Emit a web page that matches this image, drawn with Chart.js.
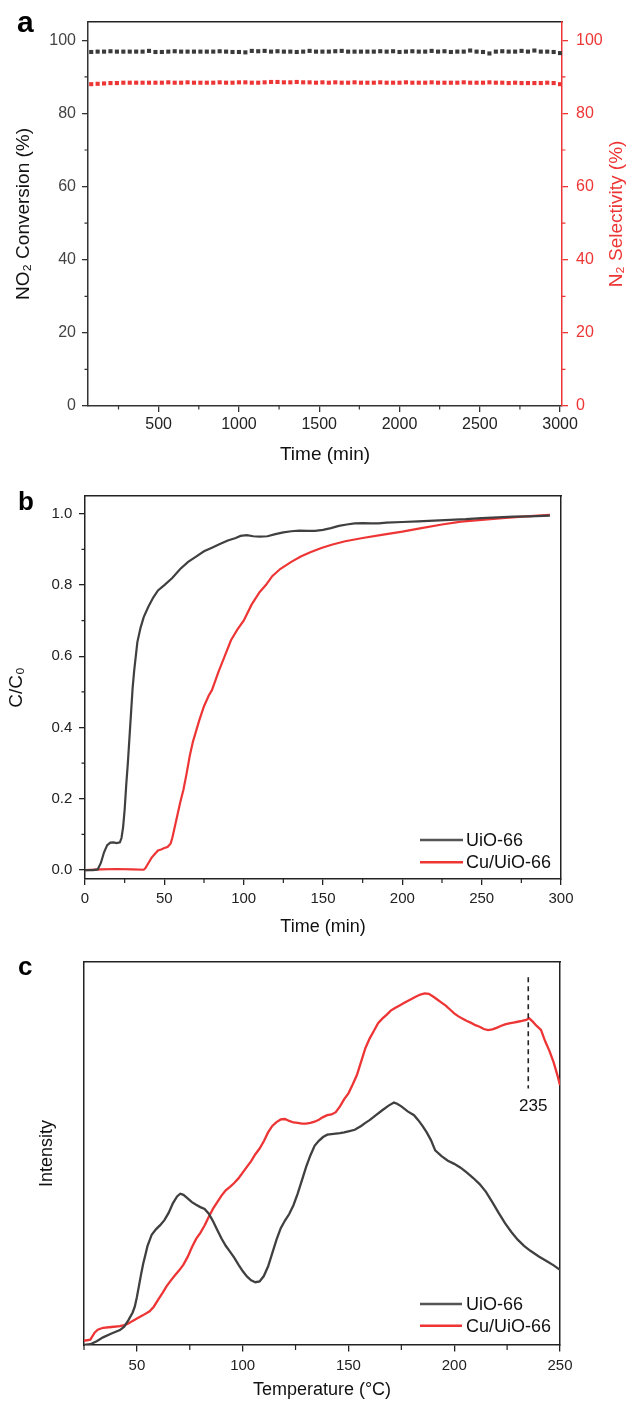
<!DOCTYPE html>
<html>
<head>
<meta charset="utf-8">
<script src="https://cdn.jsdelivr.net/npm/chart.js@4.4.1/dist/chart.umd.min.js"></script>
<style>
  html, body { margin: 0; padding: 0; background: #fff; }
  #page { position: relative; width: 630px; height: 1401px; overflow: hidden;
          font-family: 'Liberation Sans', Arial, Helvetica, sans-serif; }
  canvas { position: absolute; left: 0; }
  .tag { position: absolute; font-weight: bold; color: #000; line-height: 1; }
</style>
</head>
<body>
<div id="page">
  <canvas id="chartA" width="630" height="470" style="top:0"></canvas>
  <canvas id="chartB" width="630" height="460" style="top:480px"></canvas>
  <canvas id="chartC" width="630" height="461" style="top:940px"></canvas>
  <div class="tag" style="left:17px;top:7px;font-size:30px">a</div>
  <div class="tag" style="left:18px;top:488px;font-size:26px">b</div>
  <div class="tag" style="left:18px;top:953px;font-size:26px">c</div>
</div>
<script>
// --- data panel a: stabilitas konversi NO2 / selektivitas N2 ---
const timeA = [80,120,160,200,240,280,320,360,400,440,
  480,520,560,600,640,680,720,760,800,840,
  880,920,960,1000,1040,1080,1120,1160,1200,1240,
  1280,1320,1360,1400,1440,1480,1520,1560,1600,1640,
  1680,1720,1760,1800,1840,1880,1920,1960,2000,2040,
  2080,2120,2160,2200,2240,2280,2320,2360,2400,2440,
  2480,2520,2560,2600,2640,2680,2720,2760,2800,2840,
  2880,2920,2960,3000];
const convA = [96.8,96.9,96.9,97.0,96.9,96.9,96.9,96.9,96.9,97.1,
  96.8,96.8,96.9,97.0,96.9,96.9,96.9,96.9,96.9,96.9,
  97.0,96.9,96.8,96.8,96.7,97.1,97.0,97.1,96.9,97.0,
  96.9,96.9,96.8,96.9,97.1,96.9,96.9,96.9,97.0,97.1,
  96.9,96.9,96.9,96.9,96.9,97.0,96.9,97.0,96.8,96.9,
  97.0,96.9,96.9,97.1,96.9,97.0,96.8,96.9,96.9,97.2,
  96.9,96.8,96.4,96.9,97.0,96.9,96.9,97.1,96.9,97.2,
  96.9,96.9,96.8,96.5];
const selA = [88.0,88.1,88.2,88.3,88.3,88.4,88.4,88.4,88.4,88.4,
  88.4,88.4,88.5,88.4,88.4,88.5,88.4,88.4,88.4,88.4,
  88.5,88.4,88.4,88.5,88.5,88.4,88.4,88.5,88.6,88.6,
  88.5,88.5,88.6,88.5,88.5,88.4,88.5,88.4,88.5,88.4,
  88.4,88.5,88.4,88.4,88.4,88.5,88.4,88.4,88.4,88.5,
  88.4,88.4,88.4,88.5,88.4,88.4,88.4,88.4,88.5,88.4,
  88.4,88.4,88.5,88.4,88.4,88.3,88.4,88.3,88.3,88.3,
  88.3,88.4,88.3,88.0];
const ticksAX = [500, 1000, 1500, 2000, 2500, 3000];
const minorAX = [250, 750, 1250, 1750, 2250, 2750];
const ticksAY = [0, 20, 40, 60, 80, 100];
const minorAY = [10, 30, 50, 70, 90];

// --- data panel b: kurva breakthrough ---
const timeB_UiO = [0,5,8,10,12,14,16,18,20,22,23,24,25,26,27,28,29,30,31,32,
  33,35,37,40,43,46,50,55,60,65,70,75,80,85,90,95,98,102,106,110,
  115,120,125,130,135,140,145,150,155,160,165,170,175,180,185,190,200,210,220,230,
  240,250,260,270,280,293];
const valB_UiO = [0,0,0.002,0.02,0.05,0.07,0.077,0.078,0.076,0.078,0.09,0.12,0.17,0.24,0.30,0.37,0.44,0.51,0.56,0.60,
  0.64,0.68,0.71,0.74,0.765,0.785,0.80,0.82,0.845,0.865,0.88,0.895,0.905,0.915,0.925,0.932,0.938,0.94,0.937,0.936,
  0.937,0.943,0.948,0.951,0.953,0.952,0.952,0.955,0.96,0.966,0.97,0.973,0.974,0.973,0.973,0.975,0.977,0.979,0.981,0.983,
  0.985,0.988,0.99,0.992,0.993,0.995];
const timeB_Cu = [0,10,20,30,37,38,40,42,44,46,48,50,52,54,55,56,58,60,62,64,
  66,68,70,72,75,78,80,84,88,92,96,100,105,110,114,118,123,130,136,142,
  149,156,164,175,187,200,212,225,237,250,263,278,293];
const valB_Cu = [0,0.002,0.003,0.002,0.001,0.005,0.02,0.035,0.045,0.055,0.058,0.062,0.065,0.075,0.09,0.11,0.15,0.19,0.225,0.27,
  0.32,0.36,0.39,0.42,0.46,0.49,0.505,0.555,0.60,0.645,0.675,0.70,0.745,0.78,0.80,0.825,0.845,0.865,0.88,0.892,
  0.904,0.914,0.923,0.932,0.941,0.95,0.96,0.97,0.978,0.983,0.988,0.993,0.997];
const ticksBX = [0, 50, 100, 150, 200, 250, 300];
const minorBX = [25, 75, 125, 175, 225, 275];
const ticksBY = [0, 0.2, 0.4, 0.6, 0.8, 1.0];
const minorBY = [0.1, 0.3, 0.5, 0.7, 0.9];

// --- data panel c: TPD ---
const tempC_UiO = [25,28,31,34,38,42,44,46,48,49,50,51,52,53,54,55,57,59,61,63,
  65,67,69,70.5,72,74,76,78,80,82,84,86,88,90,92,94,96,98,100,102,
  104,106,108,110,112,114,116,118,120,122,124,126,128,130,132,134,136,138,140,143,
  146,148,150,153,156,158,160,163,166,169,171.5,173,175,178,181,183,185,187,189,191,
  194,197,200,203,206,209,212,215,218,221,224,227,230,233,236,240,244,247,250];
const valC_UiO = [0,0.2,1.0,2.0,3.0,3.9,4.8,6.5,8.5,10,12.5,15.5,18.5,21.3,23.5,25.8,28.8,30.2,31.3,32.6,
  34.5,37,38.8,39.5,39.2,38.3,37.3,36.6,36.0,35.5,34.3,32.3,30,27.8,25.9,24.4,22.8,21,19.3,17.9,
  16.9,16.4,16.6,18.0,20.5,24,27.5,30.5,32.5,34.2,36.5,39.5,43,46.5,49.5,52,53.3,54.3,54.9,55.1,
  55.3,55.5,55.8,56.2,57.2,58.0,58.7,60.0,61.3,62.5,63.3,63.0,62.3,61.0,60.0,58.7,57.2,55.5,53.5,50.8,
  49.3,48.1,47.3,46.3,45.0,43.6,42.0,40.0,37.3,34.5,31.8,29.5,27.5,25.9,24.6,23.1,21.8,20.8,19.6];
const tempC_Cu = [25,28,30,31.5,34,38,42,44,46,48,50,53,56,58,60,62,64,66,68,70,
  72,74,76,78,80,82,84,86,88,90,92,94,96,98,100,102,104,106,108,110,
  112,114,116,118,120,122,124,126,128,130,132,134,136,138,140,142,144,146,148,150,
  152,154,156,158,160,162,164,166,168,170,172,174,176,178,180,182,184,186,188,190,
  192,194,196,198,200,202,204,206,208,210,212,214,216,218,220,222,224,226,228,230,
  232,234,235.5,237,239,241,243,245,247,249,250];
const valC_Cu = [1.1,1.4,3.2,4.0,4.5,4.7,4.9,5.2,5.6,6.3,6.9,7.8,8.8,10,11.8,13.5,15.3,16.8,18.2,19.5,
  21,23,25.5,27.7,29.3,31.2,33.5,35.6,37.3,39,40.4,41.3,42.3,43.5,45,46.5,48,49.8,51.3,53.2,
  55.5,57.2,58.2,58.9,59,58.5,58.1,58,57.8,57.8,58,58.3,58.8,59.5,60,60.2,60.8,62.3,64.2,65.7,
  68,70.5,74,77.5,80,82,84,85.2,86.2,87.3,88,88.6,89.2,89.8,90.4,91,91.5,91.8,91.7,91,
  90.2,89.4,88.6,87.6,86.6,85.8,85.2,84.6,84.1,83.5,83.1,82.5,82.2,82.4,82.8,83.3,83.7,84,84.2,84.4,
  84.6,84.9,85.3,84.5,83.3,82.3,79.3,76.8,73.8,70,67.8];
const ticksCX = [50, 100, 150, 200, 250];
const minorCX = [25, 75, 125, 175, 225];
const peakTemp = 235;

// --- gaya ---
const FONT = "'Liberation Sans', Arial, Helvetica, sans-serif";
const DARK = '#333333';
const RED = '#ee3535';
const GREY = '#404040';
Chart.defaults.font.family = FONT;
Chart.defaults.color = '#222';

const toPoints = (xs, ys) => xs.map((x, i) => ({ x, y: ys[i] }));
const fixTicks = values => scale => { scale.ticks = values.map(v => ({ value: v })); };
const fixWidth = w => s => { s.width = w; };
const fixHeight = h => s => { s.height = h; };

// sumbu kosong, hanya untuk garis bingkai
function frameAxis(position, size) {
  const horiz = position === 'top' || position === 'bottom';
  return {
    position, min: 0, max: 1,
    ticks: { display: false },
    grid: { display: false, drawTicks: false },
    border: { color: '#222', width: 1.5 },
    afterFit: horiz ? fixHeight(size) : fixWidth(size)
  };
}

// --- plugin: tick minor yang lebih pendek ---
function minorTicks(axes) {
  return {
    id: 'minorTicks',
    afterDraw(chart) {
      const ctx = chart.ctx;
      Object.keys(axes).forEach(id => {
        const sc = chart.scales[id];
        const cfg = axes[id];
        ctx.save();
        ctx.strokeStyle = sc.options.border.color;
        ctx.lineWidth = 1.2;
        ctx.beginPath();
        cfg.values.forEach(v => {
          const p = sc.getPixelForValue(v);
          if (sc.isHorizontal()) { ctx.moveTo(p, sc.top); ctx.lineTo(p, sc.top + cfg.len); }
          else if (sc.position === 'left') { ctx.moveTo(sc.right, p); ctx.lineTo(sc.right - cfg.len, p); }
          else { ctx.moveTo(sc.left, p); ctx.lineTo(sc.left + cfg.len, p); }
        });
        ctx.stroke();
        ctx.restore();
      });
    }
  };
}

// --- plugin: judul sumbu kanan dibaca dari bawah ke atas ---
function sideTitle(text, x, color, size) {
  return {
    id: 'sideTitle',
    afterDraw(chart) {
      const ctx = chart.ctx, a = chart.chartArea;
      ctx.save();
      ctx.translate(x, (a.top + a.bottom) / 2);
      ctx.rotate(-Math.PI / 2);
      ctx.font = `${size}px ${FONT}`;
      ctx.fillStyle = color;
      ctx.textAlign = 'center';
      ctx.textBaseline = 'middle';
      ctx.fillText(text, 0, 0);
      ctx.restore();
    }
  };
}

// --- plugin: legenda di pojok kanan bawah ---
function cornerLegend(pos) {
  return {
    id: 'cornerLegend',
    afterDraw(chart) {
      const ctx = chart.ctx, a = chart.chartArea;
      chart.data.datasets.forEach((ds, i) => {
        const y = a.bottom - pos.rows[i];
        ctx.save();
        ctx.strokeStyle = ds.legendColor || ds.borderColor;
        ctx.lineWidth = 2.5;
        ctx.beginPath();
        ctx.moveTo(a.right - pos.lineFrom, y);
        ctx.lineTo(a.right - pos.lineTo, y);
        ctx.stroke();
        ctx.fillStyle = '#111';
        ctx.font = `${pos.size}px ${FONT}`;
        ctx.textBaseline = 'middle';
        ctx.fillText(ds.label, a.right - pos.textAt, y + 1);
        ctx.restore();
      });
    }
  };
}

// --- plugin: garis putus-putus puncak ---
function peakMark(temp, yTop, yBottom, yText) {
  return {
    id: 'peakMark',
    afterDatasetsDraw(chart) {
      const ctx = chart.ctx, sx = chart.scales.x, sy = chart.scales.y;
      const px = sx.getPixelForValue(temp);
      ctx.save();
      ctx.strokeStyle = '#222';
      ctx.lineWidth = 1.6;
      ctx.setLineDash([5, 4]);
      ctx.beginPath();
      ctx.moveTo(px, sy.getPixelForValue(yTop));
      ctx.lineTo(px, sy.getPixelForValue(yBottom));
      ctx.stroke();
      ctx.setLineDash([]);
      ctx.fillStyle = '#111';
      ctx.font = `17px ${FONT}`;
      ctx.textAlign = 'center';
      ctx.textBaseline = 'middle';
      ctx.fillText(String(temp), px + 5, sy.getPixelForValue(yText));
      ctx.restore();
    }
  };
}

const baseOpts = {
  responsive: false,
  animation: false,
  plugins: { legend: { display: false }, tooltip: { enabled: false } }
};

// ===== Panel a =====
new Chart(document.getElementById('chartA'), {
  type: 'scatter',
  data: {
    datasets: [
      { label: 'NO2 Conversion', data: toPoints(timeA, convA), yAxisID: 'y',
        pointStyle: 'rect', pointRadius: 2.9, pointBorderWidth: 0, pointBackgroundColor: '#3a3a3a' },
      { label: 'N2 Selectivity', data: toPoints(timeA, selA), yAxisID: 'y2',
        pointStyle: 'rect', pointRadius: 2.9, pointBorderWidth: 0, pointBackgroundColor: RED }
    ]
  },
  options: {
    ...baseOpts,
    layout: { padding: { top: 22, left: 0, right: 0, bottom: 0 } },
    scales: {
      x: {
        type: 'linear', position: 'bottom', min: 60, max: 3012,
        afterBuildTicks: fixTicks(ticksAX), afterFit: fixHeight(64),
        ticks: { font: { size: 16 }, color: '#222', padding: 3, autoSkip: false, maxRotation: 0, callback: v => String(v) },
        grid: { drawOnChartArea: false, tickLength: 6, color: DARK, lineWidth: 1.3 },
        border: { color: DARK, width: 1.5 },
        title: { display: true, text: 'Time (min)', font: { size: 19 }, color: '#111', padding: { top: 0, bottom: 3.6 } }
      },
      xt: frameAxis('top', 0),
      y: {
        position: 'left', min: 0, max: 105,
        afterBuildTicks: fixTicks(ticksAY), afterFit: fixWidth(88),
        ticks: { font: { size: 16 }, color: '#444', padding: 6, callback: v => String(v) },
        grid: { drawOnChartArea: false, tickLength: 6, color: DARK, lineWidth: 1.3 },
        border: { color: DARK, width: 1.5 },
        title: { display: true, text: 'NO₂ Conversion (%)', font: { size: 19 }, color: '#111', padding: { top: 12.6, bottom: 0 } }
      },
      y2: {
        position: 'right', min: 0, max: 105,
        afterBuildTicks: fixTicks(ticksAY), afterFit: fixWidth(68),
        ticks: { font: { size: 16 }, color: RED, padding: 8, callback: v => String(v) },
        grid: { drawOnChartArea: false, tickLength: 6, color: RED, lineWidth: 1.3 },
        border: { color: RED, width: 1.5 }
      }
    }
  },
  plugins: [
    minorTicks({ x: { values: minorAX, len: 3.5 }, y: { values: minorAY, len: 3.5 }, y2: { values: minorAY, len: 3.5 } }),
    sideTitle('N₂ Selectivity (%)', 617, RED, 19)
  ]
});

// ===== Panel b =====
new Chart(document.getElementById('chartB'), {
  type: 'scatter',
  data: {
    datasets: [
      { label: 'UiO-66', data: toPoints(timeB_UiO, valB_UiO), showLine: true, pointRadius: 0,
        borderColor: GREY, borderWidth: 2.2, legendColor: '#555' },
      { label: 'Cu/UiO-66', data: toPoints(timeB_Cu, valB_Cu), showLine: true, pointRadius: 0,
        borderColor: RED, borderWidth: 2.2 }
    ]
  },
  options: {
    ...baseOpts,
    layout: { padding: { top: 16, left: 0, right: 0, bottom: 0 } },
    scales: {
      x: {
        type: 'linear', position: 'bottom', min: 0, max: 300,
        afterBuildTicks: fixTicks(ticksBX), afterFit: fixHeight(61),
        ticks: { font: { size: 15 }, color: '#222', padding: 5, autoSkip: false, maxRotation: 0, callback: v => String(v) },
        grid: { drawOnChartArea: false, tickLength: 6, color: '#222', lineWidth: 1.3 },
        border: { color: '#222', width: 1.5 },
        title: { display: true, text: 'Time (min)', font: { size: 18 }, color: '#111', padding: { top: 0, bottom: 2.2 } }
      },
      xt: frameAxis('top', 0),
      y: {
        position: 'left', min: -0.025, max: 1.05,
        afterBuildTicks: fixTicks(ticksBY), afterFit: fixWidth(85),
        ticks: { font: { size: 15 }, color: '#222', padding: 6.7, callback: v => v.toFixed(1) },
        grid: { drawOnChartArea: false, tickLength: 6, color: '#222', lineWidth: 1.3 },
        border: { color: '#222', width: 1.5 },
        title: { display: true, text: 'C/C₀', font: { size: 19 }, color: '#111', padding: { top: 5.6, bottom: 0 } }
      },
      yr: frameAxis('right', 69)
    }
  },
  plugins: [
    minorTicks({ x: { values: minorBX, len: 4 }, y: { values: minorBY, len: 3.5 } }),
    cornerLegend({ lineFrom: 141, lineTo: 98, textAt: 95, rows: [39, 16.7], size: 18 })
  ]
});

// ===== Panel c =====
new Chart(document.getElementById('chartC'), {
  type: 'scatter',
  data: {
    datasets: [
      { label: 'UiO-66', data: toPoints(tempC_UiO, valC_UiO), showLine: true, pointRadius: 0,
        borderColor: GREY, borderWidth: 2.3, legendColor: '#555' },
      { label: 'Cu/UiO-66', data: toPoints(tempC_Cu, valC_Cu), showLine: true, pointRadius: 0,
        borderColor: RED, borderWidth: 2.3 }
    ]
  },
  options: {
    ...baseOpts,
    layout: { padding: { top: 22, left: 0, right: 0, bottom: 0 } },
    scales: {
      x: {
        type: 'linear', position: 'bottom', min: 25, max: 250,
        afterBuildTicks: fixTicks(ticksCX), afterFit: fixHeight(56),
        ticks: { font: { size: 15 }, color: '#222', padding: 5, autoSkip: false, maxRotation: 0, callback: v => String(v) },
        grid: { drawOnChartArea: false, tickLength: 6.5, color: '#222', lineWidth: 1.3 },
        border: { color: '#222', width: 1.5 },
        title: { display: true, text: 'Temperature (°C)', font: { size: 18 }, color: '#111', padding: { top: 0, bottom: 0 } }
      },
      xt: frameAxis('top', 0),
      y: {
        position: 'left', min: 0, max: 100,
        afterFit: fixWidth(84),
        ticks: { display: false },
        grid: { display: false, drawTicks: false },
        border: { color: '#222', width: 1.5 },
        title: { display: true, text: 'Intensity', font: { size: 18 }, color: '#111', padding: { top: 36, bottom: 0 } }
      },
      yr: frameAxis('right', 70)
    }
  },
  plugins: [
    minorTicks({ x: { values: minorCX, len: 5 } }),
    cornerLegend({ lineFrom: 140, lineTo: 98, textAt: 94, rows: [41, 19.3], size: 18 }),
    peakMark(peakTemp, 96, 67, 62.2)
  ]
});
</script>
</body>
</html>
